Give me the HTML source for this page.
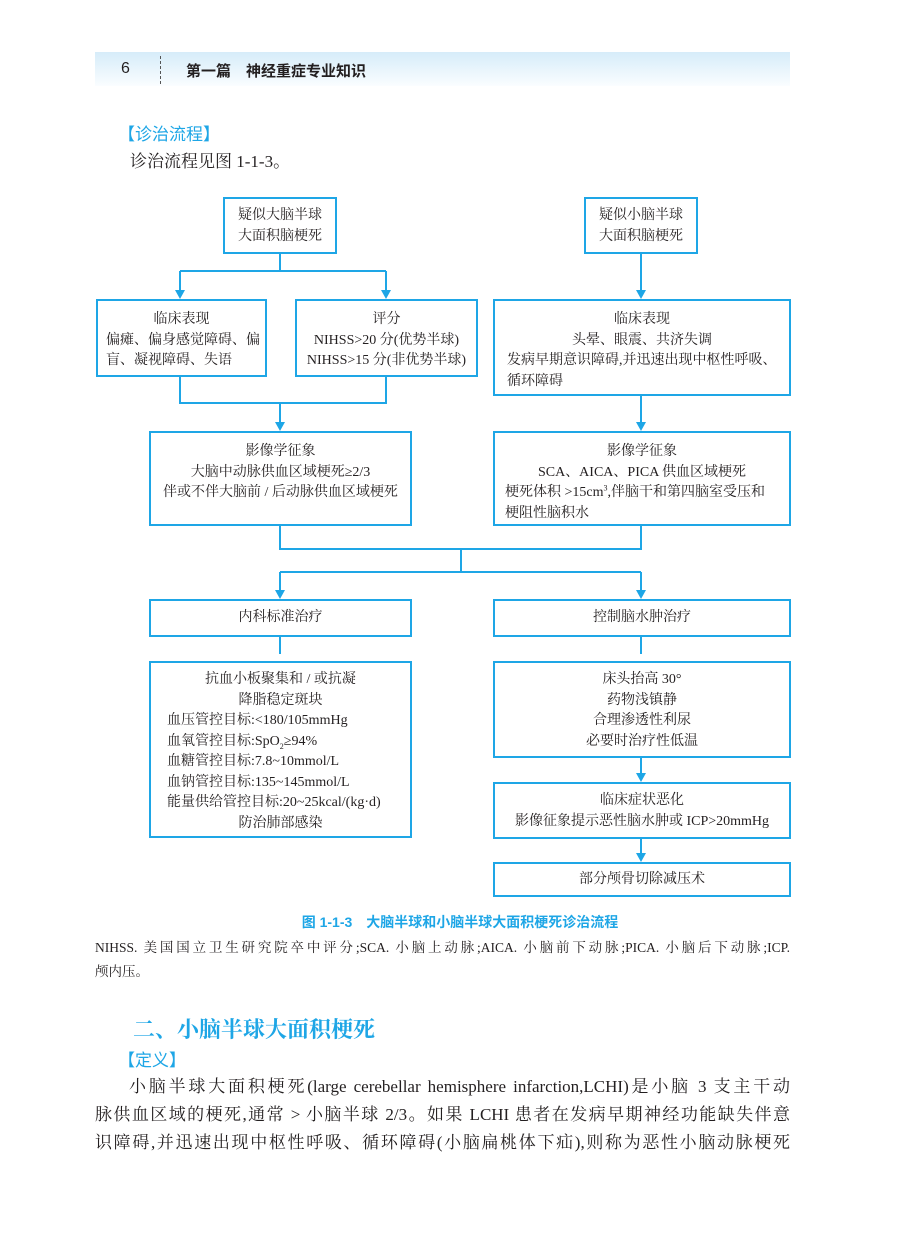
<!DOCTYPE html>
<html><head><meta charset="utf-8"><style>
body{margin:0;width:900px;height:1245px;background:#fff;position:relative;overflow:hidden;font-family:"Liberation Serif","Noto Serif CJK SC",serif;color:#231f20}
.a{position:absolute}
.bx{position:absolute;border:2px solid #1ea6e6;box-sizing:border-box;font-size:14px;line-height:20.5px;text-align:center;background:#fff}
.l{text-align:left}
.blue{color:#1ea6e6}
.hd{left:95px;top:52px;width:695px;height:34px;background:linear-gradient(#d6ecf9,#fafdff)}
.sans{font-family:"Liberation Sans","Noto Sans CJK SC",sans-serif}
.j{text-align:justify;text-align-last:justify;white-space:nowrap}
sub,sup{line-height:0;font-size:8px}
</style></head><body>
<div class="a hd"></div>
<div class="a sans" style="left:121px;top:60px;font-size:16px">6</div>
<div class="a" style="left:160px;top:56px;height:28px;border-left:1px dashed #555"></div>
<div class="a sans" style="left:186px;top:60px;font-size:15px;font-weight:bold">第一篇　神经重症专业知识</div>
<div class="a blue sans" style="left:118px;top:120px;font-size:17px">【诊治流程】</div>
<div class="a" style="left:130px;top:147px;font-size:17px">诊治流程见图 1-1-3。</div>

<svg class="a" style="left:0;top:0" width="900" height="1245">
<g stroke="#1ea6e6" stroke-width="2" fill="none">
<path d="M280 253V271M180 271H386M180 271V292M386 271V292"/>
<path d="M641 253V292"/>
<path d="M180 376V403H386V376M280 403V424"/>
<path d="M641 395V424"/>
<path d="M280 525V549H641V525M461 549V572M280 572H641M280 572V592M641 572V592"/>
<path d="M280 636V654M641 636V654M641 757V775M641 838V855"/>
</g>
<g fill="#1ea6e6">
<path d="M175 290L180 299L185 290ZM381 290L386 299L391 290ZM636 290L641 299L646 290Z"/>
<path d="M275 422L280 431L285 422ZM636 422L641 431L646 422Z"/>
<path d="M275 590L280 599L285 590ZM636 590L641 599L646 590Z"/>
<path d="M636 773L641 782L646 773ZM636 853L641 862L646 853Z"/>
</g></svg>

<div class="bx" style="left:223px;top:197px;width:114px;height:57px;padding-top:7px">疑似大脑半球<br>大面积脑梗死</div>
<div class="bx" style="left:584px;top:197px;width:114px;height:57px;padding-top:7px">疑似小脑半球<br>大面积脑梗死</div>
<div class="bx" style="left:96px;top:299px;width:171px;height:78px;padding:9px 0 0 8px"><div style="text-align:center;margin-left:-8px">临床表现</div><div class="l">偏瘫、偏身感觉障碍、偏盲、凝视障碍、失语</div></div>
<div class="bx" style="left:295px;top:299px;width:183px;height:78px;padding-top:9px">评分<br>NIHSS&gt;20 分(优势半球)<br>NIHSS&gt;15 分(非优势半球)</div>
<div class="bx" style="left:493px;top:299px;width:298px;height:97px;padding:9px 0 0 12px"><div style="margin-left:-12px">临床表现<br>头晕、眼震、共济失调</div><div class="l">发病早期意识障碍,并迅速出现中枢性呼吸、循环障碍</div></div>
<div class="bx" style="left:149px;top:431px;width:263px;height:95px;padding-top:9px">影像学征象<br>大脑中动脉供血区域梗死≥2/3<br>伴或不伴大脑前 / 后动脉供血区域梗死</div>
<div class="bx" style="left:493px;top:431px;width:298px;height:95px;padding:9px 0 0 10px"><div style="margin-left:-10px">影像学征象<br>SCA、AICA、PICA 供血区域梗死</div><div class="l" style="white-space:nowrap">梗死体积 &gt;15cm<sup>3</sup>,伴脑干和第四脑室受压和<br>梗阻性脑积水</div></div>
<div class="bx" style="left:149px;top:599px;width:263px;height:38px;padding-top:7px">内科标准治疗</div>
<div class="bx" style="left:493px;top:599px;width:298px;height:38px;padding-top:7px">控制脑水肿治疗</div>
<div class="bx" style="left:149px;top:661px;width:263px;height:177px;padding:7px 0 0 16px;line-height:20.5px"><div style="margin-left:-16px">抗血小板聚集和 / 或抗凝<br>降脂稳定斑块</div><div class="l">血压管控目标:&lt;180/105mmHg<br>血氧管控目标:SpO<sub>2</sub>≥94%<br>血糖管控目标:7.8~10mmol/L<br>血钠管控目标:135~145mmol/L<br>能量供给管控目标:20~25kcal/(kg·d)</div><div style="margin-left:-16px">防治肺部感染</div></div>
<div class="bx" style="left:493px;top:661px;width:298px;height:97px;padding-top:7px">床头抬高 30°<br>药物浅镇静<br>合理渗透性利尿<br>必要时治疗性低温</div>
<div class="bx" style="left:493px;top:782px;width:298px;height:57px;padding-top:7px">临床症状恶化<br>影像征象提示恶性脑水肿或 ICP&gt;20mmHg</div>
<div class="bx" style="left:493px;top:862px;width:298px;height:35px;padding-top:6px">部分颅骨切除减压术</div>

<div class="a blue sans" style="left:0;width:920px;text-align:center;top:912px;font-size:14px;font-weight:bold">图 1-1-3　大脑半球和小脑半球大面积梗死诊治流程</div>
<div class="a j" style="left:95px;top:936px;width:695px;font-size:13.5px;line-height:24px">NIHSS. 美国国立卫生研究院卒中评分;SCA. 小脑上动脉;AICA. 小脑前下动脉;PICA. 小脑后下动脉;ICP.</div>
<div class="a" style="left:95px;top:960px;font-size:13.5px;line-height:24px">颅内压。</div>
<div class="a blue" style="left:133px;top:1013px;font-size:22px;font-weight:bold">二、小脑半球大面积梗死</div>
<div class="a blue sans" style="left:118px;top:1046px;font-size:17px">【定义】</div>
<div class="a" style="left:95px;top:1073px;width:695px;font-size:17px;line-height:28px">
<div class="j" style="padding-left:34px">小脑半球大面积梗死(large cerebellar hemisphere infarction,LCHI)是小脑 3 支主干动</div>
<div class="j">脉供血区域的梗死,通常 &gt; 小脑半球 2/3。如果 LCHI 患者在发病早期神经功能缺失伴意</div>
<div class="j">识障碍,并迅速出现中枢性呼吸、循环障碍(小脑扁桃体下疝),则称为恶性小脑动脉梗死</div>
</div>
</body></html>
